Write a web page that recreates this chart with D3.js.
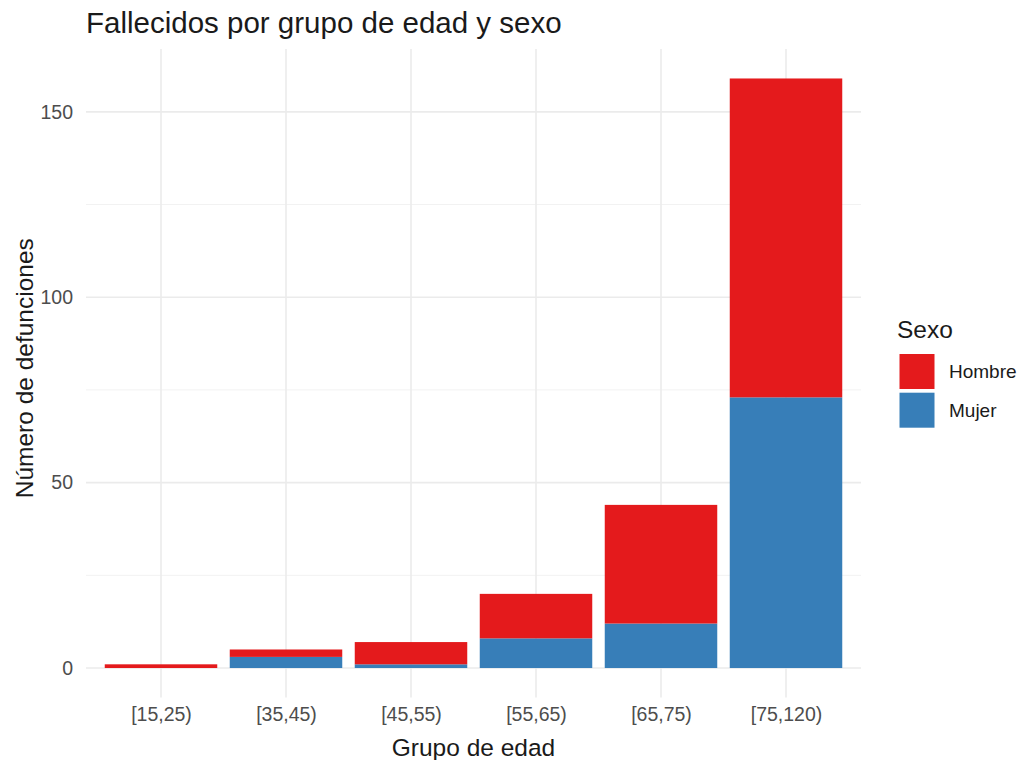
<!DOCTYPE html>
<html><head><meta charset="utf-8">
<script src="https://cdn.jsdelivr.net/npm/d3@7"></script>
<style>body{margin:0;background:#fff;} svg{display:block;font-family:"Liberation Sans",Arial,sans-serif;}</style>
</head><body>
<svg id="c" width="1023" height="760"></svg>
<script>
const categories = ["[15,25)","[35,45)","[45,55)","[55,65)","[65,75)","[75,120)"];
const mujer = [0,3,1,8,12,73];
const hombre = [1,2,6,12,32,86];
const seriesNames = ["Mujer","Hombre"];
const legendOrder = ["Hombre","Mujer"];
const colors = {Hombre:"#E41A1C", Mujer:"#377EB8"};
const yTicks = [0,50,100,150];
const yMinor = [25,75,125];

const svg = d3.select("#c");
const W = 1023, H = 760;
const m = {left:86, right:W-861, top:49, bottom:H-697.5};
const rows = categories.map((c,i)=>({cat:c, Mujer:mujer[i], Hombre:hombre[i]}));
const totals = rows.map(r=>r.Mujer+r.Hombre);
const tmax = d3.max(totals);
const y = d3.scaleLinear().domain([-0.05*tmax, 1.05*tmax]).range([H-m.bottom, m.top]);

const n = categories.length;
const step = (W-m.right-m.left)/(n-1+1.2);
const xc = d3.scalePoint().domain(categories).range([m.left+0.6*step, W-m.right-0.6*step]);
const bw = step*0.9;

const grid = svg.append("g");
yMinor.forEach(v=>grid.append("line").attr("x1",m.left).attr("x2",W-m.right).attr("y1",y(v)).attr("y2",y(v)).attr("stroke","#f2f2f2").attr("stroke-width",1));
yTicks.forEach(v=>grid.append("line").attr("x1",m.left).attr("x2",W-m.right).attr("y1",y(v)).attr("y2",y(v)).attr("stroke","#ebebeb").attr("stroke-width",1.6));
categories.forEach(c=>grid.append("line").attr("x1",xc(c)).attr("x2",xc(c)).attr("y1",m.top).attr("y2",H-m.bottom).attr("stroke","#ebebeb").attr("stroke-width",1.6));

const stack = d3.stack().keys(seriesNames)(rows);
svg.append("g").selectAll("g").data(stack).join("g").attr("fill",d=>colors[d.key])
  .selectAll("rect").data(d=>d).join("rect")
  .attr("x",d=>xc(d.data.cat)-bw/2).attr("width",bw)
  .attr("y",d=>y(d[1])).attr("height",d=>Math.max(0,y(d[0])-y(d[1])));

const tickFont = 19.5;
const yAxis = d3.axisLeft(y).tickValues(yTicks).tickSize(0).tickPadding(13);
const ga = svg.append("g").attr("transform",`translate(${m.left},0)`).call(yAxis);
ga.select(".domain").remove();
ga.selectAll("text").attr("font-size",tickFont).attr("fill","#4d4d4d").attr("font-family","Liberation Sans, Arial, sans-serif");

const xAxis = d3.axisBottom(xc).tickSize(0).tickPadding(10);
const gx = svg.append("g").attr("transform",`translate(0,${H-m.bottom})`).call(xAxis);
gx.select(".domain").remove();
gx.selectAll("text").attr("font-size",tickFont).attr("fill","#4d4d4d").attr("font-family","Liberation Sans, Arial, sans-serif");

svg.append("text").attr("x",(m.left+W-m.right)/2).attr("y",756).attr("text-anchor","middle").attr("font-size",24.5).attr("fill","#1a1a1a").text("Grupo de edad");
svg.append("text").attr("transform",`translate(33,${(m.top+H-m.bottom)/2 - 5}) rotate(-90)`).attr("text-anchor","middle").attr("font-size",24.5).attr("fill","#1a1a1a").text("Número de defunciones");
svg.append("text").attr("x",86).attr("y",33).attr("font-size",29.5).attr("fill","#1a1a1a").text("Fallecidos por grupo de edad y sexo");

const lg = svg.append("g");
lg.append("text").attr("x",897).attr("y",338).attr("font-size",24.5).attr("fill","#1a1a1a").text("Sexo");
legendOrder.forEach((k,i)=>{
  lg.append("rect").attr("x",899.5).attr("y",354+i*38.7).attr("width",35).attr("height",35).attr("fill",colors[k]);
  lg.append("text").attr("x",949).attr("y",378+i*38.7).attr("font-size",19).attr("fill","#1a1a1a").text(k);
});
</script>
</body></html>
